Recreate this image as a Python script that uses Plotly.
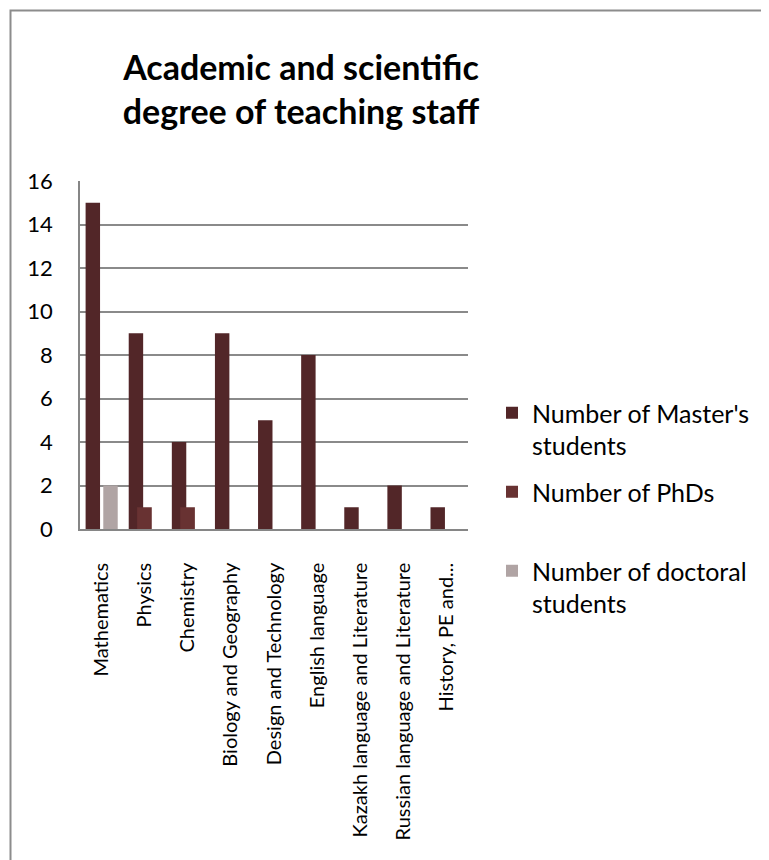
import plotly.graph_objects as go

categories = ["Mathematics", "Physics", "Chemistry", "Biology and Geography",
              "Design and Technology", "English language",
              "Kazakh language and Literature", "Russian language and Literature",
              "History, PE and..."]
masters = [15, 9, 4, 9, 5, 8, 1, 2, 1]
phds = [0, 1, 1, 0, 0, 0, 0, 0, 0]
doctoral = [2, 0, 0, 0, 0, 0, 0, 0, 0]
y_ticks = [0, 2, 4, 6, 8, 10, 12, 14, 16]

FONT = "Lato"
OFF = 8  # page body margin
W, H = 769 - OFF, 860 - OFF
# plot area in reference pixel coordinates
L, R, T, B = 80, 468, 181, 529

fig = go.Figure()
fig.add_trace(go.Bar(x=categories, y=masters, name="Number of Master's<br>students",
                     marker=dict(color="#522628", line=dict(width=0)),
                     offset=-0.37, width=0.335, legendgroup="a"))
fig.add_trace(go.Bar(x=categories, y=phds, name="Number of PhDs<br>&nbsp;",
                     marker=dict(color="#683232", line=dict(width=0)),
                     offset=-0.175, width=0.34, legendgroup="b"))
fig.add_trace(go.Bar(x=categories, y=doctoral, name="Number of doctoral<br>students",
                     marker=dict(color="#B0A4A4", line=dict(width=0)),
                     offset=0.04, width=0.335, legendgroup="c"))

pw = R - L
ph = B - T
def px_x(p):
    return (p - L) / pw
def px_y(p):
    return (B - p) / ph

fig.update_layout(
    width=W, height=H,
    margin=dict(l=L - OFF, r=W - (R - OFF), t=T - OFF, b=H - (B - OFF), pad=0,
                autoexpand=False),
    paper_bgcolor="white", plot_bgcolor="white",
    barmode="overlay",
    font=dict(family=FONT, color="#000000"),
    title=dict(text="<b>Academic and scientific<br>degree of teaching staff</b>",
               x=(301 - OFF) / W, xref="container", xanchor="center",
               y=1 - (80 - OFF) / H, yref="container", yanchor="middle",
               font=dict(family=FONT, size=34, color="#000000")),
    legend=dict(x=px_x(492), xanchor="left", y=px_y(390), yanchor="top",
                font=dict(family=FONT, size=25, color="#000000"),
                valign="top", tracegroupgap=11, bgcolor="rgba(0,0,0,0)",
                itemwidth=30),
    showlegend=True,
    shapes=[dict(type="rect", xref="paper", yref="paper",
                 x0=px_x(10.5), x1=px_x(800), y0=px_y(900), y1=px_y(10.5),
                 line=dict(color="#8c8c8c", width=2), fillcolor="rgba(0,0,0,0)",
                 layer="below")],
)
fig.update_xaxes(type="category", showline=True, linecolor="#868686", linewidth=1.5,
                 tickangle=-90, tickfont=dict(family=FONT, size=20, color="#000000"),
                 ticks="", showgrid=False, ticklabelstandoff=24, automargin=False)
fig.update_yaxes(range=[0, 16], tickvals=y_ticks, showline=True, linecolor="#868686",
                 linewidth=1.5, showgrid=True, gridcolor="#8a8a8a", gridwidth=1.5,
                 zeroline=False, ticks="", ticklabelstandoff=21, automargin=False,
                 tickfont=dict(family=FONT, size=22, color="#000000"))

fig.write_html("out.html")
